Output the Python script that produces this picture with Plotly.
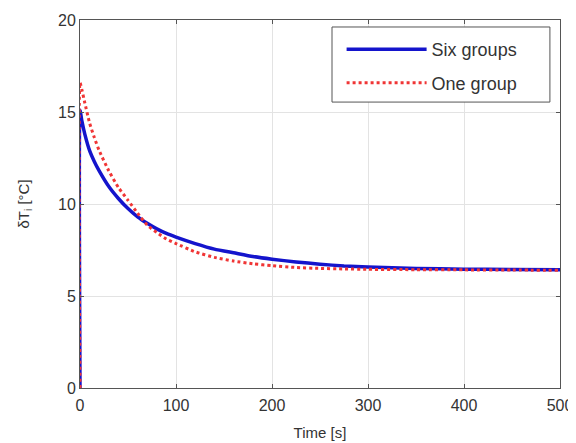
import plotly.graph_objects as go

time_s = [0, 0, 2, 5, 10, 15, 20, 30, 40, 50, 60, 70, 80, 90, 100, 120, 140, 160,
          180, 200, 225, 250, 275, 300, 350, 400, 450, 500]
six_groups = [0, 15.1, 14.5, 13.8, 12.9, 12.3, 11.8, 10.95, 10.3, 9.75, 9.3, 8.95, 8.65,
              8.4, 8.2, 7.85, 7.55, 7.35, 7.15, 7.0, 6.85, 6.73, 6.63, 6.57, 6.5, 6.46,
              6.44, 6.42]
one_group = [0, 16.6, 16.2, 15.5, 14.4, 13.6, 12.9, 11.8, 10.9, 10.2, 9.5, 8.85, 8.45,
             8.1, 7.85, 7.4, 7.1, 6.9, 6.75, 6.65, 6.55, 6.5, 6.47, 6.45, 6.43, 6.42,
             6.41, 6.4]
x_ticks = [0, 100, 200, 300, 400, 500]
y_ticks = [0, 5, 10, 15, 20]

FONT = "Liberation Sans, Arial"

fig = go.Figure()
fig.add_trace(go.Scatter(x=time_s, y=six_groups, mode="lines", name="Six groups",
                         legendgroup="six",
                         line=dict(color="#1414cc", width=3.5, shape="spline", smoothing=0.5)))
fig.add_trace(go.Scatter(x=time_s, y=one_group, mode="lines", name="One group",
                         legendgroup="one",
                         line=dict(color="#f03535", width=3, dash="dot", shape="spline",
                                   smoothing=0.5)))

axis_common = dict(showline=True, linecolor="#555555", linewidth=1, mirror="ticks",
                   showgrid=True, gridcolor="#e3e3e3", gridwidth=1, zeroline=False,
                   ticks="inside", ticklen=4, tickcolor="#555555", automargin=False,
                   ticklabeloverflow="allow",
                   tickfont=dict(family=FONT, size=16, color="#333333"))

# legend frame (decoration)
fig.add_shape(type="rect", xref="paper", yref="paper", x0=0.525, x1=0.979,
              y0=0.777, y1=0.981, line=dict(color="#555555", width=1),
              fillcolor="white", layer="above")

fig.update_layout(
    width=576, height=443,
    margin=dict(l=72, r=24, t=12, b=63),
    paper_bgcolor="white", plot_bgcolor="white",
    xaxis=dict(range=[0, 500], tickvals=x_ticks, ticklabelstandoff=3,
               title=dict(text="Time [s]", standoff=14,
                          font=dict(family=FONT, size=15, color="#333333")),
               **axis_common),
    yaxis=dict(range=[0, 20], tickvals=y_ticks,
               title=dict(text="δT<sub>i</sub> [°C]", standoff=24,
                          font=dict(family=FONT, size=15, color="#333333")),
               **axis_common),
    legend=dict(x=0.545, y=0.97, xanchor="left", yanchor="top",
                bgcolor="rgba(0,0,0,0)", borderwidth=0,
                font=dict(family=FONT, size=18, color="#333333"),
                itemwidth=80, tracegroupgap=7, traceorder="grouped"),
    showlegend=True,
)

fig.write_html("out.html")
